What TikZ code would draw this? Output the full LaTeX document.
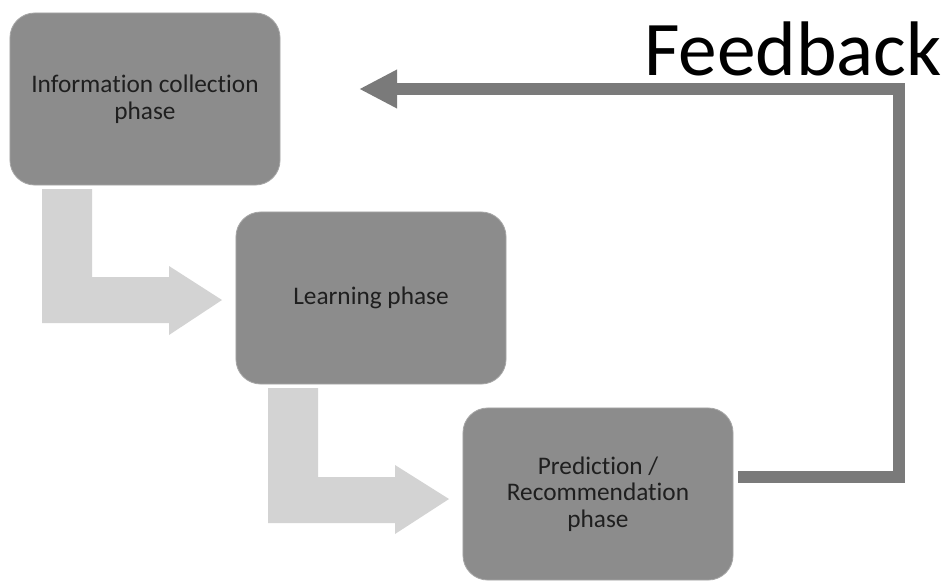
\documentclass[tikz,border=0pt]{standalone}
\usepackage{fontspec}
\setmainfont{Carlito}[Ligatures=NoCommon]
\usetikzlibrary{arrows.meta}

\definecolor{phasegray}{HTML}{8C8C8C}
\definecolor{phaseedge}{HTML}{A6A6A6}
\definecolor{stepgray}{HTML}{D3D3D3}
\definecolor{loopgray}{HTML}{7A7A7A}

\tikzset{
  phase/.style={draw=phaseedge,line width=0.6pt,fill=phasegray,rounded corners=0.62cm,
    minimum width=6.75cm,minimum height=4.3cm,align=center,text=black!88,
    font=\fontsize{18}{19}\selectfont},
  stepshape/.style={fill=stepgray,draw=none},
  loopline/.style={draw=loopgray,line width=0.3cm,-{Triangle[length=0.95cm,width=0.9cm]}}
}

\begin{document}
\begin{tikzpicture}[x=0.025cm,y=-0.025cm]
\useasboundingbox (0,0) rectangle (946,580);
\node[phase] (collect) at (145,99) {Information collection\\phase};
\node[phase] (learn) at (371,298) {Learning phase};
\node[phase] (predict) at (598,494) {Prediction /\\Recommendation\\phase};
% bent step arrows
\fill[stepshape] (42,189) -- (92,189) -- (92,277) -- (169,277) -- (169,266) -- (222,300) -- (169,335) -- (169,323) -- (42,323) -- cycle;
\fill[stepshape] (268,388) -- (318,388) -- (318,477) -- (395,477) -- (395,465) -- (449,499) -- (395,534) -- (395,523) -- (268,523) -- cycle;
% feedback loop
\coordinate (fbstart) at (738,477);
\coordinate (fbcorner) at (899,89);
\coordinate (fbend) at (359,89);
\draw[loopline] (fbstart) -| (fbcorner) -- (fbend);
\node[anchor=base east,inner sep=0pt,font=\fontsize{55}{60}\selectfont] (fbtext) at (942,75) {Feedback};
\end{tikzpicture}
\end{document}
